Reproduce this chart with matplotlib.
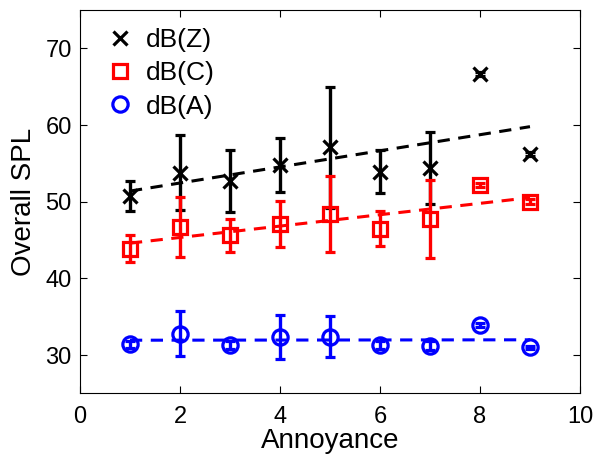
import numpy as np
import matplotlib
matplotlib.use("Agg")
import matplotlib.pyplot as plt
from matplotlib.lines import Line2D

plt.rcParams['font.family'] = ['Liberation Sans', 'DejaVu Sans']

annoyance = [1, 2, 3, 4, 5, 6, 7, 8, 9]

# dB(Z)
z_mean = [50.75, 53.8, 52.7, 54.8, 57.1, 53.9, 54.4, 66.7, 56.2]
z_err = [2.0, 4.85, 4.1, 3.55, 7.9, 2.8, 4.7, 0.25, 0.25]

# dB(C)
c_mean = [43.9, 46.7, 45.6, 47.1, 48.4, 46.5, 47.7, 52.2, 50.0]
c_err = [1.7, 3.9, 2.2, 3.0, 4.95, 2.3, 5.1, 0.3, 0.3]

# dB(A)
a_mean = [31.4, 32.8, 31.3, 32.4, 32.4, 31.3, 31.2, 33.9, 31.0]
a_err = [0.5, 2.9, 0.5, 2.85, 2.65, 0.55, 0.6, 0.25, 0.25]

series = [
    ("dB(Z)", z_mean, z_err, "black", "x", 9.5),
    ("dB(C)", c_mean, c_err, "red", "s", 10),
    ("dB(A)", a_mean, a_err, "blue", "o", 11),
]

fig = plt.figure(figsize=(5.97, 4.58), dpi=100)
ax = fig.add_axes([0.134, 0.141, 0.8375, 0.837])

x = np.array(annoyance, dtype=float)
handles = []
for label, mean, err, color, marker, ms in series:
    ax.errorbar(x, mean, yerr=err, fmt=marker, color=color, ms=ms,
                mfc='none', mec=color, mew=2.3, elinewidth=2.4,
                capsize=3.5, capthick=2.4, zorder=3)
    # trend line through all points
    p = np.polyfit(x, mean, 1)
    xf = np.array([x[0], x[-1]])
    ax.plot(xf, np.polyval(p, xf), color=color, lw=2.2,
            linestyle=(0, (4, 2.8)), zorder=2)
    handles.append(Line2D([], [], linestyle='none', marker=marker, ms=ms,
                          mfc='none', mec=color, mew=2.3, label=label))

ax.set_xlim(0, 10)
ax.set_ylim(25, 75)
ax.set_xticks([0, 2, 4, 6, 8, 10])
ax.set_yticks([30, 40, 50, 60, 70])
ax.tick_params(direction='in', top=True, right=True, labelsize=17, length=5)
ax.tick_params(axis='x', pad=9)
ax.tick_params(axis='y', pad=6)
ax.set_xlabel("Annoyance", fontsize=20, labelpad=0)
ax.set_ylabel("Overall SPL", fontsize=20, labelpad=6)

ax.legend(handles=handles, loc='upper left', bbox_to_anchor=(0.054, 0.953),
          frameon=False, fontsize=19, handlelength=1.0, handletextpad=0.48,
          labelspacing=0.35, borderaxespad=0, borderpad=0)

fig.savefig("out.png", dpi=100)
